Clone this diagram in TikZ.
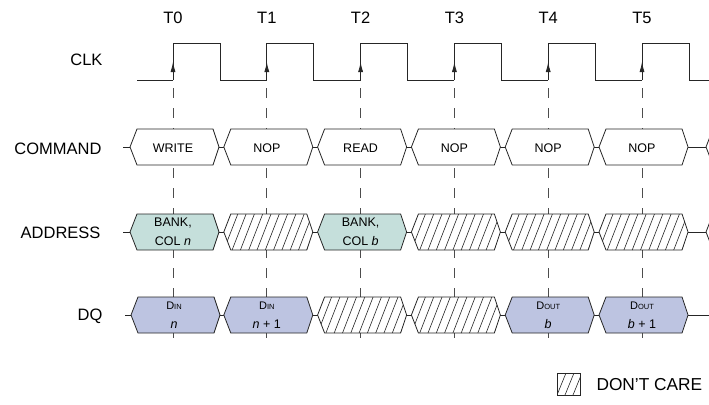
\documentclass[tikz,border=0pt]{standalone}
\usepackage{fontspec}
\setmainfont{Liberation Sans}
\usetikzlibrary{arrows.meta}
\definecolor{addrfill}{RGB}{197,223,219}
\definecolor{dqfill}{RGB}{189,196,225}
\tikzset{
  sig/.style={line width=0.8pt,draw=black!85},
  bus/.style={line width=0.8pt,draw=black!85},
  tick/.style={dash pattern=on 10pt off 10pt,line width=0.7pt,draw=black!70},
  hatch/.style={line width=0.6pt,draw=black!85},
  lbl/.style={font=\fontsize{16.5}{19}\selectfont},
  txt/.style={font=\fontsize{12.5}{19}\selectfont,align=center},
}
% bus box: left point x, centre y, style
\newcommand{\busbox}[3]{%
  \draw[bus,#3] (#1,#2) -- (#1+7,#2-18) -- (#1+83,#2-18) -- (#1+89,#2)
    -- (#1+83,#2+18) -- (#1+7,#2+18) -- cycle;}
% don't care box
\newcommand{\dcbox}[2]{%
  \begin{scope}
    \clip (#1,#2) -- (#1+7,#2-18) -- (#1+83,#2-18) -- (#1+89,#2)
      -- (#1+83,#2+18) -- (#1+7,#2+18) -- cycle;
    \fill[white] (#1,#2-18) rectangle (#1+89,#2+18);
    \foreach \h in {-2,...,11} \draw[hatch] (#1+\h*8.3,#2+18) -- ++(14,-36);
  \end{scope}
  \busbox{#1}{#2}{}}
\newcommand{\din}{{\fontsize{11}{13}\selectfont D}{\fontsize{7.5}{9}\selectfont IN}}
\newcommand{\dout}{{\fontsize{11}{13}\selectfont D}{\fontsize{7.5}{9}\selectfont OUT}}
\begin{document}
\begin{tikzpicture}[x=1pt,y=-1pt]
\clip (0,0) rectangle (709,404);
% clock edges
\foreach \k in {0,...,5}{
  \pgfmathsetmacro\t{173+93.8*\k}
  \draw[tick] (\t,88) -- (\t,342);
  \node[lbl] (t\k) at (\t,18) {T\k};
}
\draw[sig] (137,80) -- (173,80);
\foreach \k in {0,...,6}{
  \pgfmathsetmacro\t{173+93.8*\k}
  \draw[sig] (\t,80) -- (\t,43) -- (\t+47,43) -- (\t+47,80) -- (\t+93.8,80);
  \draw[sig,-{Latex[length=10pt,width=5pt]}] (\t,80) -- (\t,62);
}
% signal names
\node[lbl,anchor=east] (clk) at (106,60) {CLK};
\node[lbl,anchor=east] (cmd) at (105,149) {COMMAND};
\node[lbl,anchor=east] (addr) at (104,233) {ADDRESS};
\node[lbl,anchor=east] (dq) at (106,316) {DQ};
% COMMAND
\draw[bus] (123,147) -- (709,147);
\foreach \k/\txt in {0/WRITE,1/NOP,2/READ,3/NOP,4/NOP,5/NOP}{
  \pgfmathsetmacro\l{130+93.8*\k}
  \busbox{\l}{147}{fill=white}
  \node[txt] (c\k) at (\l+43,148) {\txt};
}
\busbox{706}{147}{fill=white}
% ADDRESS
\draw[bus] (123,232) -- (709,232);
\busbox{130}{232}{fill=addrfill}
\node[txt] (a0) at (173,232) {BANK,\\COL \textit{n}};
\busbox{317.6}{232}{fill=addrfill}
\node[txt] (a2) at (360.6,232) {BANK,\\COL \textit{b}};
\foreach \k in {1,3,4,5}{
  \pgfmathsetmacro\l{130+93.8*\k}
  \dcbox{\l}{232}
}
\busbox{706}{232}{fill=white}
% DQ
\draw[bus] (125,315) -- (709,315);
\busbox{131}{315}{fill=dqfill}
\node[txt] (d0) at (174,315) {\din\\\textit{n}};
\busbox{223.8}{315}{fill=dqfill}
\node[txt] (d1) at (266.8,315) {\din\\\textit{n} + 1};
\dcbox{317.6}{315}
\dcbox{411.4}{315}
\busbox{505.2}{315}{fill=dqfill}
\node[txt] (d4) at (548.2,315) {\dout\\\textit{b}};
\busbox{599}{315}{fill=dqfill}
\node[txt] (d5) at (642,315) {\dout\\\textit{b} + 1};
% legend
\begin{scope}
  \clip (557,373) rectangle (580,395);
  \foreach \h in {-2,...,3} \draw[hatch] (557+\h*8,395) -- ++(9,-22);
\end{scope}
\draw[hatch] (557,373) rectangle (580,395);
\node[lbl,anchor=west,font=\fontsize{17.3}{20}\selectfont] (dc) at (593,385) {DON’T CARE};
\end{tikzpicture}
\end{document}
